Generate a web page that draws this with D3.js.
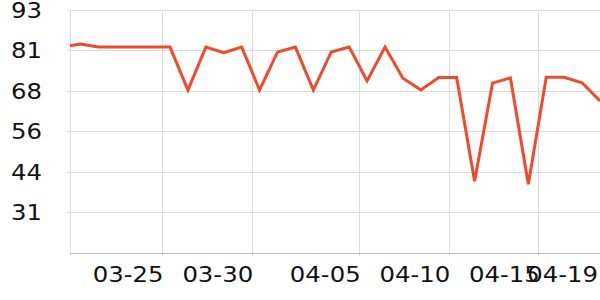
<!DOCTYPE html>
<html>
<head>
<meta charset="utf-8">
<script src="https://cdn.jsdelivr.net/npm/d3@7"></script>
<style>
    html, body { margin: 0; padding: 0; background: #fff; }
    #chart { width: 600px; height: 300px; }
    text { font-family: "DejaVu Sans", sans-serif; fill: #111; }
</style>
</head>
<body>
<div id="chart"></div>
<script>
// Data: one reading per day (first one in the evening before)
const dates = [
    '2024-03-19T20:00', '2024-03-20T10:00', '2024-03-21T10:00', '2024-03-22T10:00',
    '2024-03-23T10:00', '2024-03-24T10:00', '2024-03-25T10:00', '2024-03-26T10:00',
    '2024-03-27T10:00', '2024-03-28T10:00', '2024-03-29T10:00', '2024-03-30T10:00',
    '2024-03-31T10:00', '2024-04-01T10:00', '2024-04-02T10:00', '2024-04-03T10:00',
    '2024-04-04T10:00', '2024-04-05T10:00', '2024-04-06T10:00', '2024-04-07T10:00',
    '2024-04-08T10:00', '2024-04-09T10:00', '2024-04-10T10:00', '2024-04-11T10:00',
    '2024-04-12T10:00', '2024-04-13T10:00', '2024-04-14T10:00', '2024-04-15T10:00',
    '2024-04-16T10:00', '2024-04-17T10:00', '2024-04-18T10:00'
];
const values = [
    82.1, 82.6, 81.7, 81.7, 81.7, 81.7, 81.7, 68.6,
    81.7, 80.0, 81.7, 68.6, 80.2, 81.7, 68.6, 80.2,
    81.7, 71.4, 81.7, 72.2, 68.6, 72.4, 72.4, 40.8,
    70.7, 72.3, 39.9, 72.5, 72.5, 70.8, 65.3
];
// x tick dates and their labels (last label sits at the end of the axis)
const xTickDates = ['2024-03-25T00:00', '2024-03-30T00:00', '2024-04-05T00:00', '2024-04-10T00:00', '2024-04-15T00:00'];
const xTickLabels = ['03-25', '03-30', '04-05', '04-10', '04-15'];
const xEndLabel = '04-19';
// y axis: 6 evenly spaced ticks, shown rounded
const yMin = 18.9;
const yMax = 93;
const yStep = 12.35;

const W = 600, H = 300;
const margin = { top: 10, right: 0, bottom: 47, left: 70 };
const FONT = 21;
const STRETCH = 1.16; // labels in the picture are a bit wider than the font

const parse = d3.timeParse('%Y-%m-%dT%H:%M');
const data = dates.map((d, i) => ({ date: parse(d), value: values[i] }));

const svg = d3.select('#chart').append('svg')
    .attr('width', W)
    .attr('height', H);

const x = d3.scaleTime()
    .domain(d3.extent(data, d => d.date))
    .range([margin.left, W - margin.right]);

const y = d3.scaleLinear()
    .domain([yMin, yMax])
    .range([H - margin.bottom, margin.top]);

const yTicks = d3.range(1, 7).map(i => yMin + i * yStep);
const xTicks = xTickDates.map(parse);

// Horizontal grid
svg.append('g')
    .selectAll('line')
    .data(yTicks)
    .join('line')
    .attr('x1', margin.left - 3)
    .attr('x2', W - margin.right)
    .attr('y1', d => y(d))
    .attr('y2', d => y(d))
    .attr('stroke', '#dcdcdc')
    .attr('stroke-width', 1)
    .attr('shape-rendering', 'crispEdges');

// Vertical grid (incl. left edge)
svg.append('g')
    .selectAll('line')
    .data([x.domain()[0]].concat(xTicks))
    .join('line')
    .attr('x1', d => x(d))
    .attr('x2', d => x(d))
    .attr('y1', margin.top)
    .attr('y2', H - margin.bottom + 3)
    .attr('stroke', '#dcdcdc')
    .attr('stroke-width', 1)
    .attr('shape-rendering', 'crispEdges');

// Bottom axis line
svg.append('line')
    .attr('x1', margin.left)
    .attr('x2', W - margin.right)
    .attr('y1', y(yMin))
    .attr('y2', y(yMin))
    .attr('stroke', '#bdbdbd')
    .attr('stroke-width', 1)
    .attr('shape-rendering', 'crispEdges');

// Y labels
svg.append('g')
    .selectAll('text')
    .data(yTicks)
    .join('text')
    .attr('transform', d => `translate(${margin.left - 28}, ${y(d)}) scale(${STRETCH}, 1)`)
    .attr('dy', '0.36em')
    .attr('text-anchor', 'end')
    .style('font-size', FONT + 'px')
    .text(d => Math.round(d));

// X labels, right-aligned on their tick
svg.append('g')
    .selectAll('text')
    .data(xTicks)
    .join('text')
    .attr('transform', d => `translate(${x(d) + 1}, 282) scale(${STRETCH}, 1)`)
    .attr('text-anchor', 'end')
    .style('font-size', FONT + 'px')
    .text((d, i) => xTickLabels[i]);

svg.append('text')
    .attr('transform', `translate(${x(x.domain()[1]) - 2}, 282) scale(${STRETCH}, 1)`)
    .attr('text-anchor', 'end')
    .style('font-size', FONT + 'px')
    .text(xEndLabel);

// Line
const line = d3.line()
    .x(d => x(d.date))
    .y(d => y(d.value));

svg.append('path')
    .datum(data)
    .attr('fill', 'none')
    .attr('stroke', '#f04a2b')
    .attr('stroke-width', 3)
    .attr('stroke-linejoin', 'miter')
    .attr('d', line);
</script>
</body>
</html>
